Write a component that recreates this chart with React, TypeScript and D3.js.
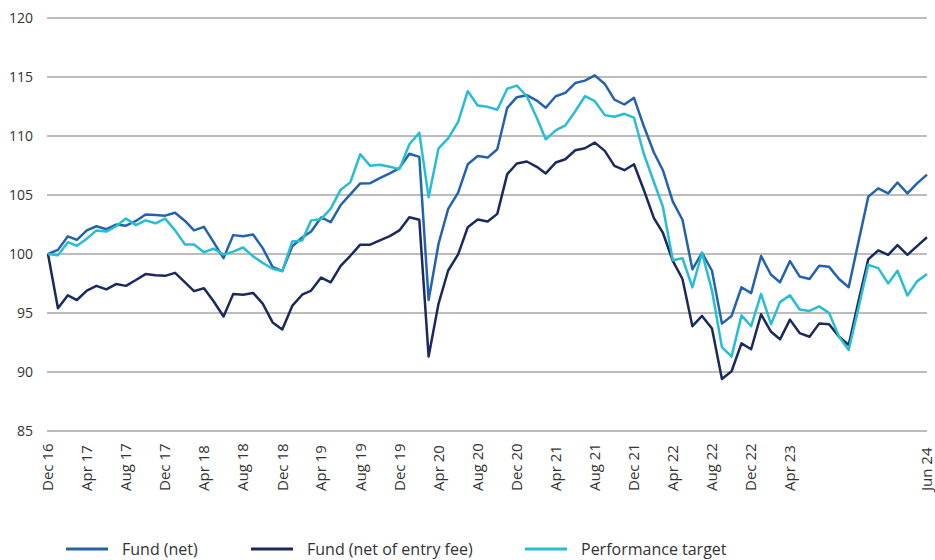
import React, { useEffect, useRef } from 'react';
import * as d3 from 'd3';

// Monthly index values, Dec 16 .. Jun 24 (rebased to 100)
const fundNet = [
  100.0, 100.35, 101.5, 101.2, 102.0, 102.35, 102.1, 102.5, 102.4, 102.8, 103.35, 103.3, 103.25,
  103.5, 102.8, 102.0, 102.3, 101.0, 99.65, 101.6, 101.5, 101.65, 100.5, 98.9, 98.55,
  100.65, 101.4, 101.9, 103.1, 102.7, 104.15, 105.05, 105.98, 106.0, 106.43, 106.83, 107.28,
  108.5, 108.23, 96.1, 100.87, 103.82, 105.2, 107.6, 108.3, 108.17, 108.88, 112.39, 113.29,
  113.46, 113.0, 112.39, 113.37, 113.65, 114.49, 114.69, 115.14, 114.41, 113.09, 112.67, 113.23,
  110.8, 108.6, 107.1, 104.44, 102.9, 98.7, 100.1, 98.58, 94.1, 94.75, 97.18, 96.68,
  99.83, 98.24, 97.6, 99.4, 98.1, 97.88, 99.0, 98.91, 97.88, 97.18, 101.09, 104.86,
  105.56, 105.14, 106.06, 105.14, 105.98, 106.73,
];

const fundEntryFee = [
  100.0, 95.4, 96.5, 96.1, 96.9, 97.3, 97.0, 97.45, 97.3, 97.8, 98.3, 98.2, 98.15,
  98.4, 97.6, 96.85, 97.1, 96.0, 94.7, 96.6, 96.55, 96.7, 95.8, 94.2, 93.6,
  95.6, 96.55, 96.9, 98.0, 97.6, 99.0, 99.85, 100.79, 100.79, 101.15, 101.52, 102.0,
  103.12, 102.9, 91.32, 95.8, 98.6, 99.97, 102.27, 102.92, 102.75, 103.4, 106.77, 107.67,
  107.84, 107.39, 106.83, 107.75, 108.03, 108.79, 108.96, 109.44, 108.74, 107.47, 107.1, 107.61,
  105.4, 103.04, 101.8, 99.41, 97.88, 93.88, 94.75, 93.69, 89.41, 90.06, 92.43, 91.93,
  94.89, 93.41, 92.77, 94.44, 93.3, 92.99, 94.1, 94.05, 92.99, 92.29, 96.06, 99.55,
  100.3, 99.92, 100.75, 99.92, 100.67, 101.42,
];

const perfTarget = [
  100.0, 99.9, 101.0, 100.7, 101.3, 102.0, 101.9, 102.35, 103.0, 102.45, 102.85, 102.6, 103.0,
  102.0, 100.8, 100.8, 100.15, 100.45, 99.95, 100.2, 100.55, 99.8, 99.25, 98.75, 98.55,
  101.05, 101.15, 102.85, 102.95, 103.85, 105.45, 106.07, 108.45, 107.47, 107.56, 107.39, 107.19,
  109.3, 110.28, 104.8, 108.96, 109.8, 111.2, 113.8, 112.58, 112.47, 112.22, 114.0, 114.27,
  113.37, 111.55, 109.72, 110.48, 110.9, 112.1, 113.37, 112.95, 111.77, 111.63, 111.88, 111.55,
  108.45, 106.1, 104.0, 99.47, 99.64, 97.18, 100.1, 96.9, 92.1, 91.3, 94.8, 93.88,
  96.62, 94.05, 95.92, 96.5, 95.3, 95.17, 95.56, 95.0, 92.99, 91.87, 95.5, 99.08,
  98.8, 97.51, 98.58, 96.48, 97.68, 98.3,
];

const tickLabels = [
  'Dec 16', 'Apr 17', 'Aug 17', 'Dec 17', 'Apr 18', 'Aug 18', 'Dec 18', 'Apr 19', 'Aug 19',
  'Dec 19', 'Apr 20', 'Aug 20', 'Dec 20', 'Apr 21', 'Aug 21', 'Dec 21', 'Apr 22', 'Aug 22',
  'Dec 22', 'Apr 23', 'Jun 24',
];

const yTicks = [85, 90, 95, 100, 105, 110, 115, 120];

const seriesNames = ['Fund (net)', 'Fund (net of entry fee)', 'Performance target'];
const seriesColors = ['#2462ae', '#1b2a5c', '#27bdd4'];

const App = () => {
  const chartRef = useRef<SVGSVGElement | null>(null);

  useEffect(() => {
    const svg = d3.select(chartRef.current);
    svg.selectAll('*').remove();

    const font = "'Open Sans', sans-serif";
    const parse = d3.utcParse('%b %y');
    const months = d3.utcMonth.range(new Date(Date.UTC(2016, 11, 1)), new Date(Date.UTC(2024, 6, 1)));

    const x = d3.scaleUtc()
      .domain([months[0], months[months.length - 1]])
      .range([48, 927]);

    const y = d3.scaleLinear()
      .domain([85, 120])
      .range([431, 18]);

    // gridlines + y labels
    const grid = svg.append('g');
    grid.selectAll('line')
      .data(yTicks)
      .enter().append('line')
      .attr('x1', 47)
      .attr('x2', 927)
      .attr('y1', d => y(d))
      .attr('y2', d => y(d))
      .attr('stroke', '#a6a6a6')
      .attr('stroke-width', 1.5);

    grid.selectAll('text')
      .data(yTicks)
      .enter().append('text')
      .attr('x', 33)
      .attr('y', d => y(d))
      .attr('dy', '0.35em')
      .attr('text-anchor', 'end')
      .style('font-family', font)
      .style('font-size', '14px')
      .style('fill', '#333')
      .text(d => d);

    // x labels, rotated
    svg.append('g')
      .selectAll('text')
      .data(tickLabels)
      .enter().append('text')
      .attr('transform', d => `translate(${x(parse(d) as Date)}, 491) rotate(-90)`)
      .attr('dy', '0.35em')
      .attr('text-anchor', 'start')
      .style('font-family', font)
      .style('font-size', '15px')
      .style('fill', '#333')
      .text(d => d);

    // lines
    const allSeries = [fundNet, fundEntryFee, perfTarget];
    const line = d3.line<number>()
      .x((_, i) => x(months[i]))
      .y(d => y(d));

    svg.append('g')
      .selectAll('path')
      .data(allSeries)
      .enter().append('path')
      .attr('d', d => line(d))
      .attr('fill', 'none')
      .attr('stroke', (_, i) => seriesColors[i])
      .attr('stroke-width', 2.5)
      .attr('stroke-linejoin', 'round');

    // legend
    const legendX = [66, 251, 525];
    const legend = svg.append('g')
      .selectAll('g')
      .data(seriesNames)
      .enter().append('g')
      .attr('transform', (_, i) => `translate(${legendX[i]}, 549)`);

    legend.append('line')
      .attr('x1', 0)
      .attr('x2', 42)
      .attr('stroke', (_, i) => seriesColors[i])
      .attr('stroke-width', 3);

    legend.append('text')
      .attr('x', 56)
      .attr('dy', '0.35em')
      .style('font-family', font)
      .style('font-size', '16px')
      .style('fill', '#333')
      .text(d => d);
  }, []);

  return (
    <svg
      ref={chartRef}
      width={935}
      height={560}
      style={{ position: 'absolute', left: 0, top: 0, background: '#fff' }}
    ></svg>
  );
};

export default App;
